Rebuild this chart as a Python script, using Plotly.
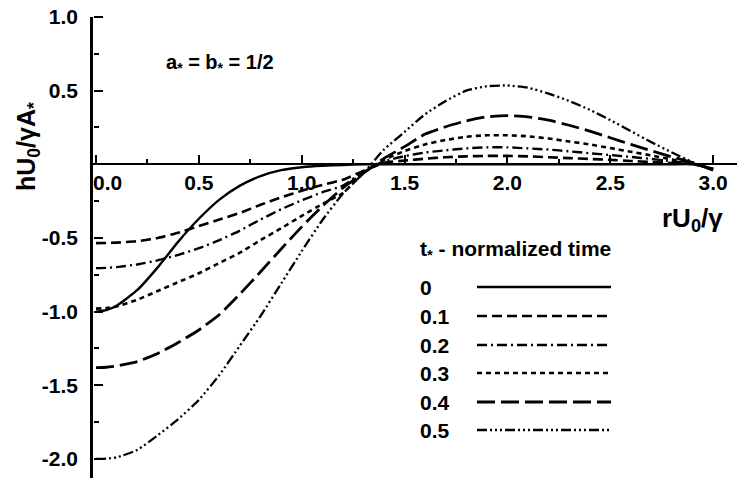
import plotly.graph_objects as go

# ---- data ----
x_vals = [0.0, 0.05, 0.1, 0.2, 0.3, 0.4, 0.5, 0.6, 0.7, 0.8, 0.9, 1.0, 1.1, 1.2, 1.3, 1.4,
          1.5, 1.6, 1.7, 1.8, 1.9, 2.0, 2.1, 2.2, 2.3, 2.4, 2.5, 2.6, 2.7, 2.8, 2.9, 3.0]

h_t00 = [-1.00, -0.99, -0.96, -0.855, -0.70, -0.525, -0.37, -0.24, -0.145, -0.08, -0.04, -0.02, -0.01, -0.005, 0.0, 0.0,
         0.0, 0.0, 0.0, 0.0, 0.0, 0.0, 0.0, 0.0, 0.0, 0.0, 0.0, 0.0, 0.0, 0.0, 0.0, -0.03]
h_t01 = [-0.535, -0.534, -0.532, -0.522, -0.50, -0.465, -0.42, -0.375, -0.33, -0.275, -0.225, -0.18, -0.14, -0.105, -0.045, 0.01,
         0.025, 0.038, 0.048, 0.054, 0.057, 0.057, 0.054, 0.048, 0.042, 0.036, 0.03, 0.022, 0.015, 0.008, 0.002, -0.03]
h_t02 = [-0.705, -0.703, -0.698, -0.68, -0.652, -0.615, -0.57, -0.515, -0.45, -0.375, -0.305, -0.245, -0.19, -0.145, -0.05, 0.02,
         0.055, 0.08, 0.095, 0.108, 0.115, 0.115, 0.108, 0.10, 0.088, 0.075, 0.063, 0.05, 0.036, 0.02, 0.005, -0.035]
h_t03 = [-0.98, -0.976, -0.965, -0.92, -0.86, -0.80, -0.74, -0.67, -0.60, -0.515, -0.435, -0.35, -0.27, -0.195, -0.06, 0.03,
         0.09, 0.135, 0.165, 0.187, 0.197, 0.197, 0.19, 0.175, 0.155, 0.135, 0.11, 0.085, 0.06, 0.033, 0.008, -0.035]
h_t04 = [-1.38, -1.378, -1.37, -1.34, -1.285, -1.21, -1.125, -1.02, -0.88, -0.73, -0.575, -0.425, -0.285, -0.16, -0.06, 0.04,
         0.12, 0.205, 0.255, 0.295, 0.322, 0.33, 0.322, 0.30, 0.265, 0.225, 0.18, 0.135, 0.092, 0.05, 0.012, -0.04]
h_t05 = [-2.0, -1.998, -1.99, -1.94, -1.84, -1.73, -1.60, -1.43, -1.23, -1.03, -0.81, -0.59, -0.38, -0.20, -0.06, 0.10,
         0.22, 0.34, 0.43, 0.50, 0.53, 0.535, 0.52, 0.48, 0.43, 0.37, 0.30, 0.225, 0.15, 0.08, 0.015, -0.04]

series_names = ["0", "0.1", "0.2", "0.3", "0.4", "0.5"]
series_vals = [h_t00, h_t01, h_t02, h_t03, h_t04, h_t05]

x_tick_vals = [0.0, 0.5, 1.0, 1.5, 2.0, 2.5, 3.0]
x_tick_text = ["\u00a0\u00a0\u00a0\u00a00.0", "0.5", "1.0", "1.5", "2.0", "2.5", "3.0"]
x_minor_vals = [0.25, 0.75, 1.25, 1.75, 2.25, 2.75]
y_tick_vals = [-2.0, -1.5, -1.0, -0.5, 0.0, 0.5, 1.0]
y_tick_text = ["-2.0", "-1.5", "-1.0", "-0.5", "", "0.5", "1.0"]
y_minor_vals = [-1.75, -1.25, -0.75, -0.25, 0.25, 0.75]

# ---- styles ----
dashes = ["solid", "10px,5px", "10px,4px,2px,4px", "5px,4px", "18px,6px",
          "10px,3px,2px,3px,2px,3px,2px,3px"]
widths = [2.4, 2.6, 2.4, 2.6, 2.8, 2.3]
FONT = "Liberation Sans, Arial, Helvetica, sans-serif"

X_RANGE = [-0.0146, 3.116]
Y_RANGE = [-2.13, 1.0]
W, H = 737, 478
ML, MT = 93, 17
PW, PH = W - ML, H - MT


def px_x(p):
    return (p - ML) / PW


def px_y(p):
    return (H - p) / PH


fig = go.Figure()
for name, vals, d, w in zip(series_names, series_vals, dashes, widths):
    fig.add_trace(go.Scatter(x=x_vals, y=vals, mode="lines", name=name,
                             line=dict(color="black", width=w, dash=d, shape="spline", smoothing=0.5),
                             showlegend=False))
# empty trace so the tick-only overlay axes are drawn
fig.add_trace(go.Scatter(x=[None], y=[None], xaxis="x2", yaxis="y2", mode="lines",
                         showlegend=False, hoverinfo="skip"))

zero_pos = (0 - Y_RANGE[0]) / (Y_RANGE[1] - Y_RANGE[0])

tick_style = dict(ticks="outside", ticklen=9, tickwidth=2, tickcolor="black")

fig.update_layout(
    width=W, height=H,
    margin=dict(l=ML, r=0, t=MT, b=0),
    paper_bgcolor="white", plot_bgcolor="white",
    font=dict(family=FONT, size=21, color="black", weight="bold"),
    xaxis=dict(range=X_RANGE, anchor="free", position=zero_pos, side="bottom", showline=True,
               linecolor="black", linewidth=2, showgrid=False, zeroline=False, ticks="",
               tickmode="array", tickvals=x_tick_vals, ticktext=x_tick_text,
               tickfont=dict(size=21)),
    yaxis=dict(range=Y_RANGE, showline=True, linecolor="black", linewidth=2.5,
               showgrid=False, zeroline=False, ticks="",
               tickmode="array", tickvals=y_tick_vals, ticktext=y_tick_text, ticklabelstandoff=8,
               tickfont=dict(size=21)),
    # tick-only axes (ticks pointing into the plot)
    xaxis2=dict(range=X_RANGE, overlaying="x", side="top", anchor="free", position=zero_pos,
                showline=False, showgrid=False, zeroline=False, showticklabels=False,
                tickmode="array", tickvals=x_tick_vals, **tick_style,
                minor=dict(tickmode="array", tickvals=x_minor_vals, ticks="outside",
                           ticklen=5, tickwidth=1.5, tickcolor="black")),
    yaxis2=dict(range=Y_RANGE, overlaying="y", side="right", anchor="free", position=0,
                showline=False, showgrid=False, zeroline=False, showticklabels=False,
                tickmode="array", tickvals=y_tick_vals, **tick_style,
                minor=dict(tickmode="array", tickvals=y_minor_vals, ticks="outside",
                           ticklen=5, tickwidth=1.5, tickcolor="black")),
)

# axis titles
fig.add_annotation(text="hU<sub>0</sub>/γA<sub>*</sub>", xref="paper", yref="paper",
                   x=px_x(28), y=px_y(147), textangle=-90, showarrow=False,
                   xanchor="center", yanchor="middle", font=dict(size=25))
fig.add_annotation(text="rU<sub>0</sub>/γ", xref="paper", yref="paper",
                   x=px_x(692), y=px_y(220), showarrow=False,
                   xanchor="center", yanchor="middle", font=dict(size=26))
fig.add_annotation(text="a<sub>*</sub> = b<sub>*</sub> = 1/2", xref="paper", yref="paper",
                   x=px_x(220), y=px_y(63), showarrow=False,
                   xanchor="center", yanchor="middle", font=dict(size=20))

# legend (manual)
fig.add_annotation(text="t<sub>*</sub> - normalized time", xref="paper", yref="paper",
                   x=px_x(418), y=px_y(250), showarrow=False,
                   xanchor="left", yanchor="middle", font=dict(size=21))
leg_y = [287, 316, 345, 373, 402, 430]
for name, d, w, yy in zip(series_names, dashes, widths, leg_y):
    fig.add_annotation(text=name, xref="paper", yref="paper", x=px_x(418), y=px_y(yy),
                       showarrow=False, xanchor="left", yanchor="middle", font=dict(size=21))
    fig.add_shape(type="line", xref="paper", yref="paper",
                  x0=px_x(477), x1=px_x(611), y0=px_y(yy), y1=px_y(yy),
                  line=dict(color="black", width=w, dash=d))

fig.write_html("out.html")
